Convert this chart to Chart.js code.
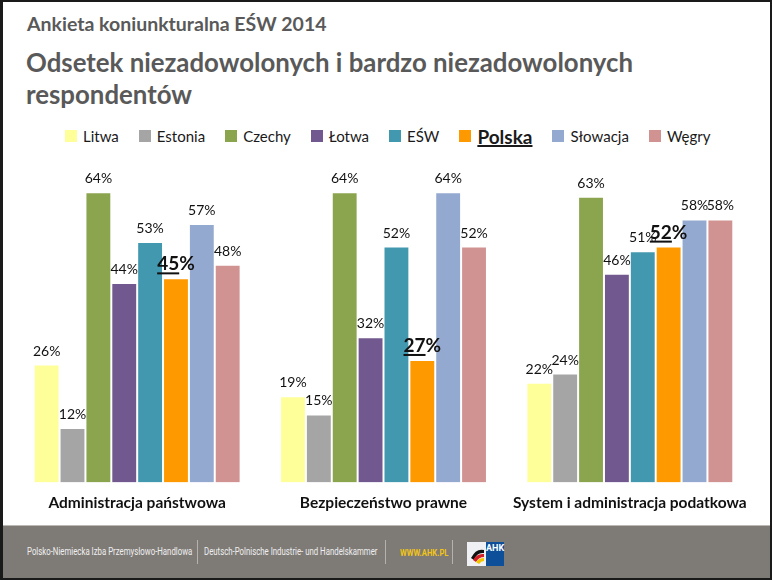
<!DOCTYPE html>
<html lang="pl">
<head>
  <meta charset="UTF-8" />
  <title>Ankieta koniunkturalna EŚW 2014</title>
  <script src="https://cdn.jsdelivr.net/npm/chart.js"></script>
  <style>
    html, body { margin: 0; padding: 0; background: #fff; }
    .slide {
      position: relative; width: 772px; height: 580px; box-sizing: border-box;
      border: 2px solid #1a1a1a; border-left-width: 3px; overflow: hidden;
      font-family: Lato, "Open Sans", sans-serif;
    }
    .kicker { position: absolute; left: 24px; top: 10px; font-size: 19.5px; font-weight: bold; color: #595959; }
    .title { position: absolute; left: 23px; top: 44px; font-size: 25.8px; line-height: 32px; font-weight: bold; color: #595959; }
    .legend { position: absolute; left: 62px; top: 123px; display: flex; align-items: center; height: 22px; }
    .legend .item { display: flex; align-items: center; font-size: 15px; color: #1a1a1a; margin-right: 20px; }
    .legend .box { width: 12px; height: 12px; margin-right: 6px; }
    .legend .item.hl { font-weight: bold; font-size: 19px; text-decoration: underline; text-decoration-thickness: 2px; }
    .chart-box { position: absolute; left: -3px; top: 146px; width: 772px; height: 381px; }
    .footer {
      position: absolute; left: 0; top: 523px; width: 772px; height: 60px;
      background: #7e7a76; border-top: 1px solid #bcb8b4; color: #efefef;
      font-family: Roboto, sans-serif; font-size: 11px;
    }
    .footer span { position: absolute; top: 19px; white-space: nowrap; transform-origin: left center; transform: scaleX(0.71); }
    .footer .sep { position: absolute; top: 14px; width: 1px; height: 24px; background: #b5b1ad; }
    .footer .www { color: #f0c419; font-size: 9px; font-weight: bold; top: 22px; transform: scaleX(0.85); }
    .logo { position: absolute; left: 464px; top: 16px; width: 37px; height: 24px; background: #eef0f3; }
    .logo .blue { position: absolute; right: 0; top: 0; width: 18px; height: 24px; background: #0e4f9a; color: #fff; font-size: 9px; font-weight: bold; line-height: 12px; text-align: right; padding-right: 1px; box-sizing: border-box; }
  </style>
</head>
<body>
<div class="slide">
  <div class="kicker">Ankieta koniunkturalna EŚW 2014</div>
  <div class="title">Odsetek niezadowolonych i bardzo niezadowolonych<br>respondentów</div>
  <div class="legend" id="legend"></div>
  <div class="chart-box"><canvas id="chart"></canvas></div>
  <div class="footer">
    <span style="left:24px">Polsko-Niemiecka Izba Przemysłowo-Handlowa</span>
    <div class="sep" style="left:194px"></div>
    <span style="left:201px">Deutsch-Polnische Industrie- und Handelskammer</span>
    <div class="sep" style="left:382px"></div>
    <span class="www" style="left:397px">WWW.AHK.PL</span>
    <div class="sep" style="left:449px"></div>
    <div class="logo">
      <svg width="19" height="24" style="position:absolute;left:1px;top:0">
        <path d="M3 16 Q8 6 16 8 L16 11 Q9 10 6 18 Z" fill="#111"/>
        <path d="M5 18 Q9 11 16 12 L16 15 Q11 15 8 20 Z" fill="#d51f26"/>
        <path d="M8 20 Q11 16 16 16 L16 19 Q13 19 11 22 Z" fill="#f2c500"/>
      </svg>
      <div class="blue">AHK</div>
    </div>
  </div>
</div>

<script>
  const categories = ['Administracja państwowa', 'Bezpieczeństwo prawne', 'System i administracja podatkowa'];
  const countries = ['Litwa', 'Estonia', 'Czechy', 'Łotwa', 'EŚW', 'Polska', 'Słowacja', 'Węgry'];
  const litwa    = [26, 19, 22];
  const estonia  = [12, 15, 24];
  const czechy   = [64, 64, 63];
  const lotwa    = [44, 32, 46];
  const esw      = [53, 52, 51];
  const polska   = [45, 27, 52];
  const slowacja = [57, 64, 58];
  const wegry    = [48, 52, 58];

  const series = [litwa, estonia, czechy, lotwa, esw, polska, slowacja, wegry];
  const colors = ['#ffff99', '#a5a5a5', '#8ba54e', '#71588f', '#4298af', '#ff9900', '#94a9d0', '#d19392'];
  const highlight = 'Polska';

  // html legend (Polska is bold + underlined like on the slide)
  const legend = document.getElementById('legend');
  countries.forEach((c, i) => {
    const it = document.createElement('div');
    it.className = 'item' + (c === highlight ? ' hl' : '');
    it.innerHTML = `<div class="box" style="background:${colors[i]}"></div>${c}`;
    legend.appendChild(it);
  });

  const valueLabels = {
    id: 'valueLabels',
    afterDatasetsDraw(chart) {
      const ctx = chart.ctx;
      ctx.save();
      ctx.textAlign = 'center';
      ctx.textBaseline = 'alphabetic';
      chart.data.datasets.forEach((ds, di) => {
        const meta = chart.getDatasetMeta(di);
        const hl = ds.label === highlight;
        meta.data.forEach((bar, i) => {
          const num = String(ds.data[i]);
          ctx.fillStyle = '#111';
          if (hl) {
            ctx.font = 'bold 19px Lato, sans-serif';
            const full = ctx.measureText(num + '%').width;
            const w = ctx.measureText(num).width;
            const x0 = bar.x - full / 2;
            const y = bar.y - 8;
            ctx.fillText(num + '%', bar.x, y);
            ctx.fillRect(x0, y + 2, w, 2);
          } else {
            ctx.font = '14px Lato, sans-serif';
            ctx.fillText(num + '%', bar.x, bar.y - 9);
          }
        });
      });
      ctx.restore();
    }
  };

  new Chart(document.getElementById('chart'), {
    type: 'bar',
    data: {
      labels: categories,
      datasets: countries.map((c, i) => ({
        label: c,
        data: series[i],
        backgroundColor: colors[i],
        borderColor: 'rgba(255,255,255,0.7)',
        borderWidth: 1,
        categoryPercentage: 0.84,
        barPercentage: 1
      }))
    },
    options: {
      responsive: true,
      maintainAspectRatio: false,
      animation: false,
      layout: { padding: { top: 17, left: 14, right: 19, bottom: 6 } },
      plugins: { legend: { display: false }, tooltip: { enabled: false } },
      scales: {
        x: {
          grid: { display: false, drawTicks: false },
          border: { display: false },
          ticks: {
            color: '#111', padding: 11, maxRotation: 0, minRotation: 0, autoSkip: false,
            font: { family: 'Lato, sans-serif', size: 15.5, weight: 'bold' }
          }
        },
        y: { display: false, min: 0, max: 70 }
      }
    },
    plugins: [valueLabels]
  });
</script>
</body>
</html>
